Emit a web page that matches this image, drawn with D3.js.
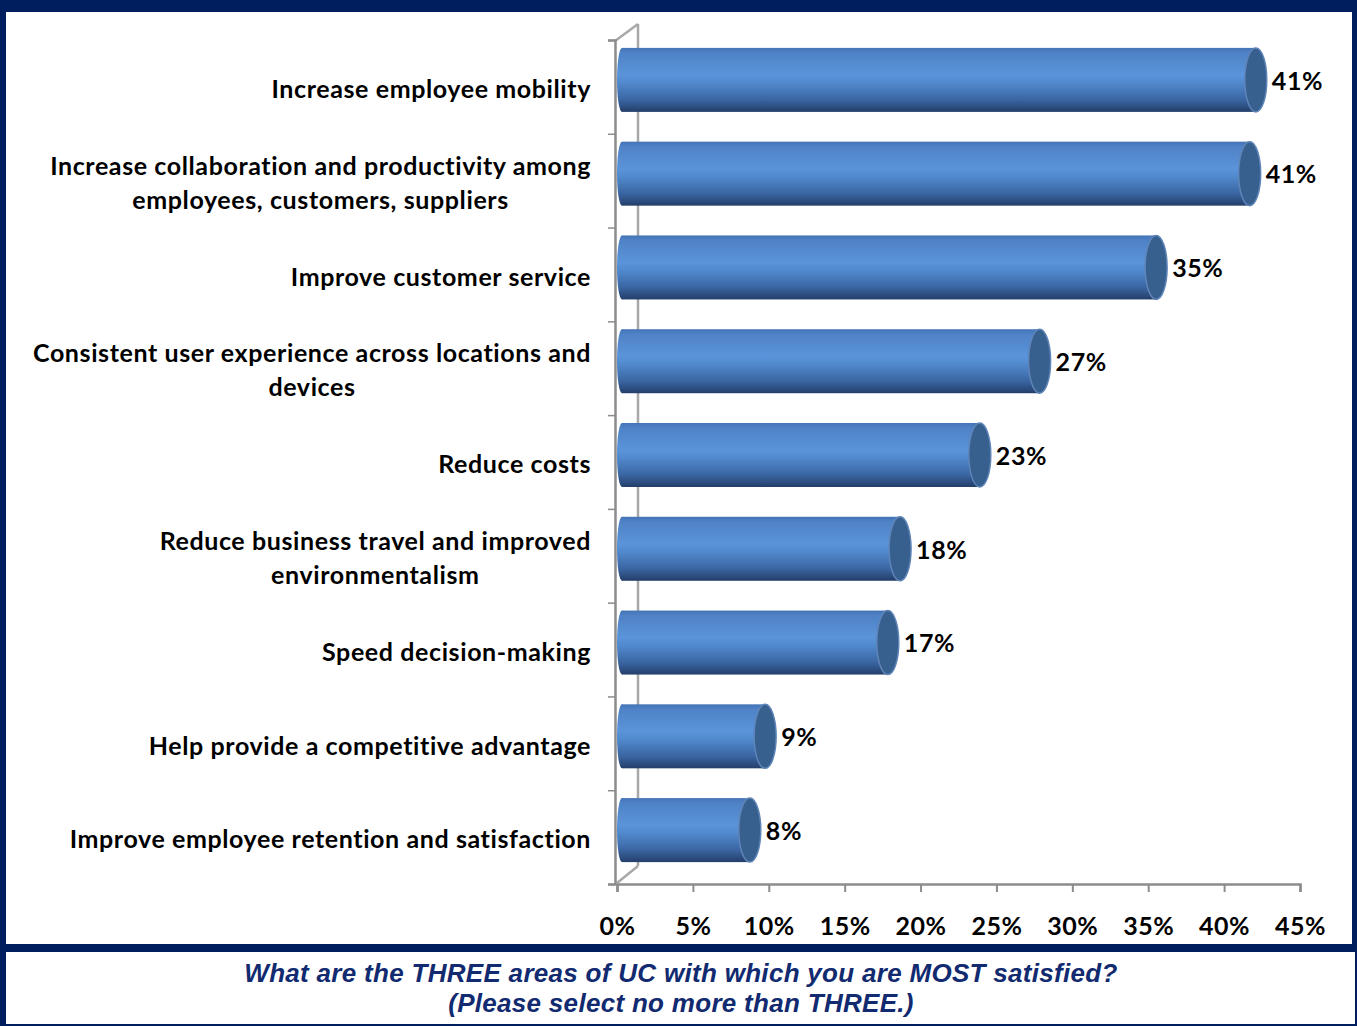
<!DOCTYPE html>
<html>
<head>
<meta charset="utf-8">
<script src="https://cdnjs.cloudflare.com/ajax/libs/d3/7.8.5/d3.min.js"></script>
<style>
  body { margin: 0; background: #fff; }
  svg { display: block; }
</style>
</head>
<body>
<div id="chart"></div>
<script>
var categories = [
  "Increase employee mobility",
  "Increase collaboration and productivity among\nemployees, customers, suppliers",
  "Improve customer service",
  "Consistent user experience across locations and\ndevices",
  "Reduce costs",
  "Reduce business travel and improved\nenvironmentalism",
  "Speed decision-making",
  "Help provide a competitive advantage",
  "Improve employee retention and satisfaction"
];
var values = [41.4, 41.0, 34.9, 27.3, 23.4, 18.2, 17.4, 9.4, 8.4];
var tickValues = [0, 5, 10, 15, 20, 25, 30, 35, 40, 45];
var question = [
  "What are the THREE areas of UC with which you are MOST satisfied?",
  "(Please select no more than THREE.)"
];

var width = 1357;
var height = 1026;
var navy = "#001e5e";
var labelFont = "Lato, 'Open Sans', sans-serif";

var svg = d3.select("#chart")
    .append("svg")
    .attr("width", width)
    .attr("height", height);

// frame
svg.append("rect").attr("x", 0).attr("y", 0).attr("width", width).attr("height", height).attr("fill", navy);
svg.append("rect").attr("x", 6).attr("y", 12).attr("width", 1346).attr("height", 932).attr("fill", "#fff");
svg.append("rect").attr("x", 6).attr("y", 952).attr("width", 1349).attr("height", 72).attr("fill", "#fff");

var x = d3.scaleLinear().domain([0, 45]).range([617, 1300]);
// bars sit a little deeper in the 3D box, so they run slightly longer
var xBar = d3.scaleLinear().domain([0, 45]).range([621, 1311]);
var y = d3.scaleBand().domain(categories).range([40, 884]);
var wall = d3.scaleLinear().domain([0, categories.length]).range([40, 884]);

var defs = svg.append("defs");
var grad = defs.append("linearGradient")
    .attr("id", "barGrad")
    .attr("x1", 0).attr("y1", 0).attr("x2", 0).attr("y2", 1);
[[0, "#4374b6"], [0.08, "#4f82c6"], [0.42, "#5b94da"], [0.55, "#5189cd"],
 [0.8, "#3b67a4"], [0.94, "#2b4b7c"], [1, "#233e68"]].forEach(function (s) {
    grad.append("stop").attr("offset", s[0]).attr("stop-color", s[1]);
});

// back wall of the 3D box
var wallColor = "#a8a8a8";
svg.append("line")
    .attr("x1", 638).attr("y1", 24).attr("x2", 638).attr("y2", 866)
    .attr("stroke", wallColor).attr("stroke-width", 2.5);
svg.append("line")
    .attr("x1", 615).attr("y1", 41).attr("x2", 638).attr("y2", 24)
    .attr("stroke", wallColor).attr("stroke-width", 2.5);
svg.append("line")
    .attr("x1", 617).attr("y1", 883).attr("x2", 638).attr("y2", 866)
    .attr("stroke", wallColor).attr("stroke-width", 2.5);

// left axis (wall edge)
var yAxis = svg.append("g")
    .attr("transform", "translate(615,0)")
    .call(d3.axisLeft(wall).tickValues(d3.range(categories.length + 1)).tickSize(7).tickFormat(""));
yAxis.select(".domain").attr("stroke", "#8c8c8c").attr("stroke-width", 2.5);
yAxis.selectAll(".tick line").attr("stroke", "#8c8c8c").attr("stroke-width", 1.5);

// bottom axis
var xAxis = svg.append("g")
    .attr("transform", "translate(0,884)")
    .call(d3.axisBottom(x).tickValues(tickValues).tickSize(8).tickPadding(25)
        .tickFormat(function (d) { return d + "%"; }));
xAxis.select(".domain").attr("stroke", "#8c8c8c").attr("stroke-width", 2.5);
xAxis.selectAll(".tick line").attr("stroke", "#8c8c8c").attr("stroke-width", 2);
xAxis.selectAll(".tick text")
    .attr("fill", "#000")
    .style("font-family", labelFont)
    .style("font-weight", "bold")
    .style("font-size", "25px")
    .style("letter-spacing", "0.5px");

// bars
var bars = svg.selectAll("g.bar")
    .data(categories)
    .enter()
    .append("g")
    .attr("class", "bar");

function barY(d) {
    return y(d) + y.bandwidth() / 2 - 7;
}
var rh = 32;

bars.append("ellipse")
    .attr("cx", 622)
    .attr("cy", barY)
    .attr("rx", 5)
    .attr("ry", rh)
    .attr("fill", "url(#barGrad)");

bars.append("rect")
    .attr("x", 622)
    .attr("y", function (d) { return barY(d) - rh; })
    .attr("width", function (d, i) { return xBar(values[i]) - 622; })
    .attr("height", rh * 2)
    .attr("fill", "url(#barGrad)");

bars.append("ellipse")
    .attr("cx", function (d, i) { return xBar(values[i]); })
    .attr("cy", barY)
    .attr("rx", 11)
    .attr("ry", rh)
    .attr("fill", "#37608f")
    .attr("stroke", "#5f84b8")
    .attr("stroke-width", 1.5);

bars.append("text")
    .attr("x", function (d, i) { return xBar(values[i]) + 16; })
    .attr("y", function (d) { return barY(d) + 1; })
    .attr("dy", "0.35em")
    .style("font-family", labelFont)
    .style("font-weight", "bold")
    .style("font-size", "25px")
    .style("letter-spacing", "0.6px")
    .text(function (d, i) { return d3.format(".0f")(values[i]) + "%"; });

// category labels, wrapped lines centred in a right-aligned block
var labels = svg.selectAll("text.cat")
    .data(categories)
    .enter()
    .append("text")
    .attr("class", "cat")
    .attr("text-anchor", "middle")
    .style("font-family", labelFont)
    .style("font-weight", "bold")
    .style("font-size", "25px")
    .style("letter-spacing", "0.6px")
    .attr("fill", "#000");

labels.each(function (d) {
    var lines = d.split("\n");
    var t = d3.select(this);
    var cy = y(d) + y.bandwidth() / 2 + 2.5;
    var lh = 34;
    lines.forEach(function (line, k) {
        t.append("tspan")
            .attr("y", cy + (k - (lines.length - 1) / 2) * lh)
            .attr("dy", "0.35em")
            .text(line);
    });
    var maxW = 0;
    t.selectAll("tspan").each(function () {
        maxW = Math.max(maxW, this.getComputedTextLength());
    });
    t.selectAll("tspan").attr("x", 591 - maxW / 2);
});

// question caption
svg.selectAll("text.q")
    .data(question)
    .enter()
    .append("text")
    .attr("class", "q")
    .attr("x", 681)
    .attr("y", function (d, i) { return 982 + i * 30; })
    .attr("text-anchor", "middle")
    .attr("fill", "#112a70")
    .style("font-family", "'Liberation Sans', Arial, sans-serif")
    .style("font-weight", "bold")
    .style("font-style", "italic")
    .style("font-size", "26px")
    .style("letter-spacing", "0.3px")
    .text(function (d) { return d; });
</script>
</body>
</html>
